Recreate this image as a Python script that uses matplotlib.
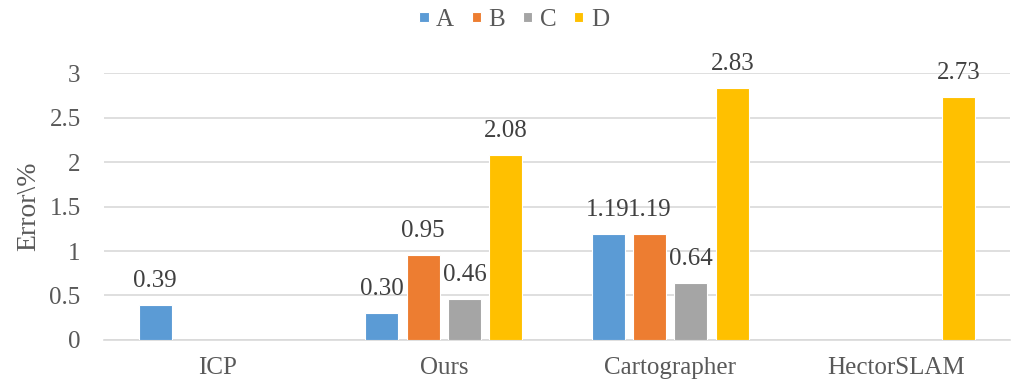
import numpy as np
import matplotlib
matplotlib.use("Agg")
import matplotlib.pyplot as plt

plt.rcParams["font.family"] = ["Liberation Serif", "DejaVu Serif"]

categories = ["ICP", "Ours", "Cartographer", "HectorSLAM"]
series_names = ["A", "B", "C", "D"]
vals_a = [0.39, 0.30, 1.19, np.nan]
vals_b = [np.nan, 0.95, 1.19, np.nan]
vals_c = [np.nan, 0.46, 0.64, np.nan]
vals_d = [np.nan, 2.08, 2.83, 2.73]
colors = ["#5B9BD5", "#ED7D31", "#A5A5A5", "#FFC000"]

fig = plt.figure(figsize=(10.22, 3.85), dpi=100)
ax = fig.add_axes([0.102, 0.117, 0.886, 0.693])

x = np.arange(len(categories))
step = 0.183
width = 0.146
txt = "#404040"

for i, (name, vals, c) in enumerate(zip(series_names, [vals_a, vals_b, vals_c, vals_d], colors)):
    pos = x + (i - 1.5) * step
    ax.bar(pos, vals, width, color=c, edgecolor="white", linewidth=0.8, label=name, zorder=3)
    for px, v in zip(pos, vals):
        if not np.isnan(v):
            ax.annotate(f"{v:.2f}", (px, v), xytext=(0, 13), textcoords="offset points",
                        ha="center", va="baseline", fontsize=18, color=txt,
                        annotation_clip=False)

ax.set_xlim(-0.5, 3.5)
ax.set_ylim(0, 3)
ax.set_yticks(np.arange(0, 3.01, 0.5))
ax.set_yticklabels(["0", "0.5", "1", "1.5", "2", "2.5", "3"])
ax.set_xticks(x)
ax.set_xticklabels(categories)
ax.tick_params(axis="both", length=0, labelsize=18, labelcolor="#595959")
ax.tick_params(axis="y", pad=17)
ax.tick_params(axis="x", pad=12)
ax.grid(axis="y", color="#D9D9D9", linewidth=1.2, zorder=0)
for s in ["top", "right", "left"]:
    ax.spines[s].set_visible(False)
ax.spines["bottom"].set_color("#D9D9D9")
ax.spines["bottom"].set_linewidth(1.2)
ax.set_ylabel("Error\\%", fontsize=20, color="#595959", labelpad=6)

# square legend swatches
fig.legend(loc="upper center", bbox_to_anchor=(0.503, 1.035), ncol=4, frameon=False,
           fontsize=18, handlelength=0.38, handleheight=0.2, handletextpad=0.3,
           columnspacing=0.7, labelcolor="#595959")

fig.savefig("out.png", dpi=100)
